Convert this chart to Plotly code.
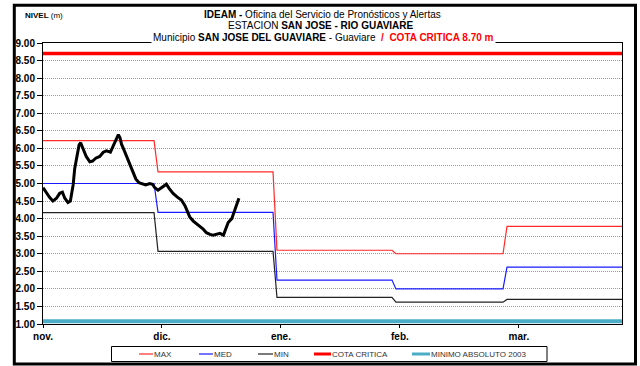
import plotly.graph_objects as go

# --- Axis ticks: days counted from 1 November ---
meses = ["nov.", "dic.", "ene.", "feb.", "mar."]
dias_meses = [0, 30, 60, 90, 120]
dia_fin = 146

# --- Monthly reference levels (m): start/end day of each monthly step ---
tramo_inicio = [0, 29, 59, 89, 117]
tramo_fin = [28, 58, 88, 116, 146]
nivel_max = [6.22, 5.33, 3.10, 3.00, 3.78]
nivel_med = [5.00, 4.18, 2.25, 2.00, 2.62]
nivel_min = [4.17, 3.07, 1.76, 1.62, 1.70]

cota_critica = 8.70
minimo_absoluto_2003 = 1.08

# --- Observed level (m) ---
obs_dia = [0, 0.85, 1.7, 2.5, 3.4, 4.2, 4.9, 5.5, 6.3, 6.9,
           7.3, 7.6, 8.0, 8.6, 9.1, 9.5, 10.1, 10.9, 11.8, 12.5,
           13.3, 14.3, 15.2, 16.0, 17.0, 17.7, 18.4, 19.0, 19.4, 19.8,
           20.6, 21.5, 22.1, 22.7, 23.4, 24.2, 25.1, 25.9, 26.9, 27.6,
           28.2, 29.0, 29.6, 30.3, 31.1, 31.8, 32.8, 33.8, 34.9, 35.8,
           36.4, 37.0, 37.9, 38.7, 39.6, 40.4, 41.2, 42.1, 42.9, 43.8,
           44.6, 45.5, 46.1, 46.7, 47.6, 48.2, 48.8, 49.4]
obs_nivel = [4.88, 4.72, 4.60, 4.50, 4.58, 4.72, 4.75, 4.58, 4.46, 4.50,
             4.77, 4.96, 5.43, 5.86, 6.10, 6.16, 6.00, 5.77, 5.62, 5.64,
             5.72, 5.77, 5.89, 5.93, 5.89, 6.05, 6.24, 6.39, 6.31, 6.12,
             5.91, 5.67, 5.48, 5.34, 5.13, 5.02, 4.98, 4.96, 5.00, 4.98,
             4.88, 4.81, 4.86, 4.91, 4.98, 4.86, 4.72, 4.62, 4.53, 4.37,
             4.20, 4.05, 3.93, 3.86, 3.77, 3.70, 3.60, 3.55, 3.53, 3.55,
             3.58, 3.53, 3.72, 3.89, 4.00, 4.20, 4.39, 4.58]

FONT = "Arial, Liberation Sans, sans-serif"


def escalones(valores):
    xs, ys = [], []
    for a, b, v in zip(tramo_inicio, tramo_fin, valores):
        xs += [a, b]
        ys += [v, v]
    return xs, ys


# name, colour, width of each reference series
estilos = [("MAX", "#ff2a2a", 1.2),
           ("MED", "#1a1aff", 1.2),
           ("MIN", "#222222", 1.2),
           ("COTA CRITICA", "#ff0000", 3.5),
           ("MINIMO ABSOLUTO 2003", "#4bacc6", 4)]

fig = go.Figure()

for (nombre, color, ancho), valores in zip(estilos[:3],
                                           [nivel_max, nivel_med, nivel_min]):
    xs, ys = escalones(valores)
    fig.add_trace(go.Scatter(x=xs, y=ys, mode="lines", name=nombre,
                             line=dict(color=color, width=ancho)))

for (nombre, color, ancho), valor in zip(estilos[3:],
                                         [cota_critica, minimo_absoluto_2003]):
    fig.add_trace(go.Scatter(x=[0, dia_fin], y=[valor] * 2, mode="lines",
                             name=nombre, line=dict(color=color, width=ancho)))

fig.add_trace(go.Scatter(x=obs_dia, y=obs_nivel, mode="lines",
                         name="NIVEL", line=dict(color="#000000", width=3)))

L, R, T, B = 43, 18, 43, 42
W, H = 640, 366
PW, PH = W - L - R, H - T - B


def px(x):
    return (x - L) / PW


def py(y):
    return (H - B - y) / PH


fig.update_layout(
    width=W, height=H,
    margin=dict(l=L, r=R, t=T, b=B, autoexpand=False),
    paper_bgcolor="white", plot_bgcolor="white",
    font=dict(family=FONT, color="#000000"),
    showlegend=False,
    xaxis=dict(range=[0, dia_fin], tickvals=dias_meses, ticktext=meses,
               showgrid=False, zeroline=False, showline=True,
               linecolor="#000000", linewidth=1, mirror=True,
               ticks="outside", ticklen=3, tickcolor="#000000",
               tickfont=dict(size=10, family=FONT, weight="bold")),
    yaxis=dict(range=[1, 9], dtick=0.5, tickformat=".2f",
               showgrid=True, gridcolor="#9a9a9a", griddash="1px,1px",
               gridwidth=1, zeroline=False, showline=True,
               linecolor="#000000", linewidth=1, mirror=True,
               ticks="outside", ticklen=5, tickcolor="#000000",
               tickfont=dict(size=10, family=FONT, weight="bold")),
)

# Title block
fig.add_annotation(xref="paper", yref="paper", x=px(322), y=py(14),
                   xanchor="center", yanchor="middle", showarrow=False,
                   font=dict(size=10, family=FONT),
                   text="<b>IDEAM - </b>Oficina del Servicio de Pronósticos y Alertas")
fig.add_annotation(xref="paper", yref="paper", x=px(321), y=py(25.5),
                   xanchor="center", yanchor="middle", showarrow=False,
                   font=dict(size=10, family=FONT),
                   text="ESTACION <b>SAN JOSE - RIO GUAVIARE</b>")
fig.add_annotation(xref="paper", yref="paper", x=px(323), y=py(37),
                   xanchor="center", yanchor="middle", showarrow=False,
                   font=dict(size=10, family=FONT), bgcolor="white",
                   borderpad=1,
                   text="Municipio <b>SAN JOSE DEL GUAVIARE</b> - Guaviare "
                        "<span style='color:#ff0000'><b> /  COTA CRITICA 8.70 m</b></span>")
fig.add_annotation(xref="paper", yref="paper", x=px(23), y=py(16),
                   xanchor="left", yanchor="middle", showarrow=False,
                   font=dict(size=8, family=FONT),
                   text="<b>NIVEL</b> (m)")

# Legend box below the axis, one swatch + label per reference series
fig.add_shape(type="rect", xref="paper", yref="paper",
              x0=px(111.5), x1=px(547), y0=py(361.5), y1=py(346.5),
              line=dict(color="#000000", width=1), fillcolor="white",
              layer="above")
leyenda_x = [139, 199, 258, 314, 412]
leyenda_largo = [14, 14, 15, 17, 18]
leyenda_y = 354
for (nombre, color, ancho), x0, largo in zip(estilos, leyenda_x, leyenda_largo):
    fig.add_shape(type="line", xref="paper", yref="paper",
                  x0=px(x0), x1=px(x0 + largo), y0=py(leyenda_y),
                  y1=py(leyenda_y),
                  line=dict(color=color, width=min(ancho, 3)), layer="above")
    fig.add_annotation(xref="paper", yref="paper", x=px(x0 + largo),
                       y=py(leyenda_y), xanchor="left", yanchor="middle",
                       showarrow=False, xshift=-1,
                       font=dict(size=8, family=FONT, color="#333333"),
                       text=nombre)

# Outer frame
fig.add_shape(type="rect", xref="paper", yref="paper",
              x0=px(14.3), x1=px(635.5), y0=py(364), y1=py(5.3),
              line=dict(color="#000000", width=3), fillcolor="rgba(0,0,0,0)",
              layer="above")

fig.write_html("out.html")
